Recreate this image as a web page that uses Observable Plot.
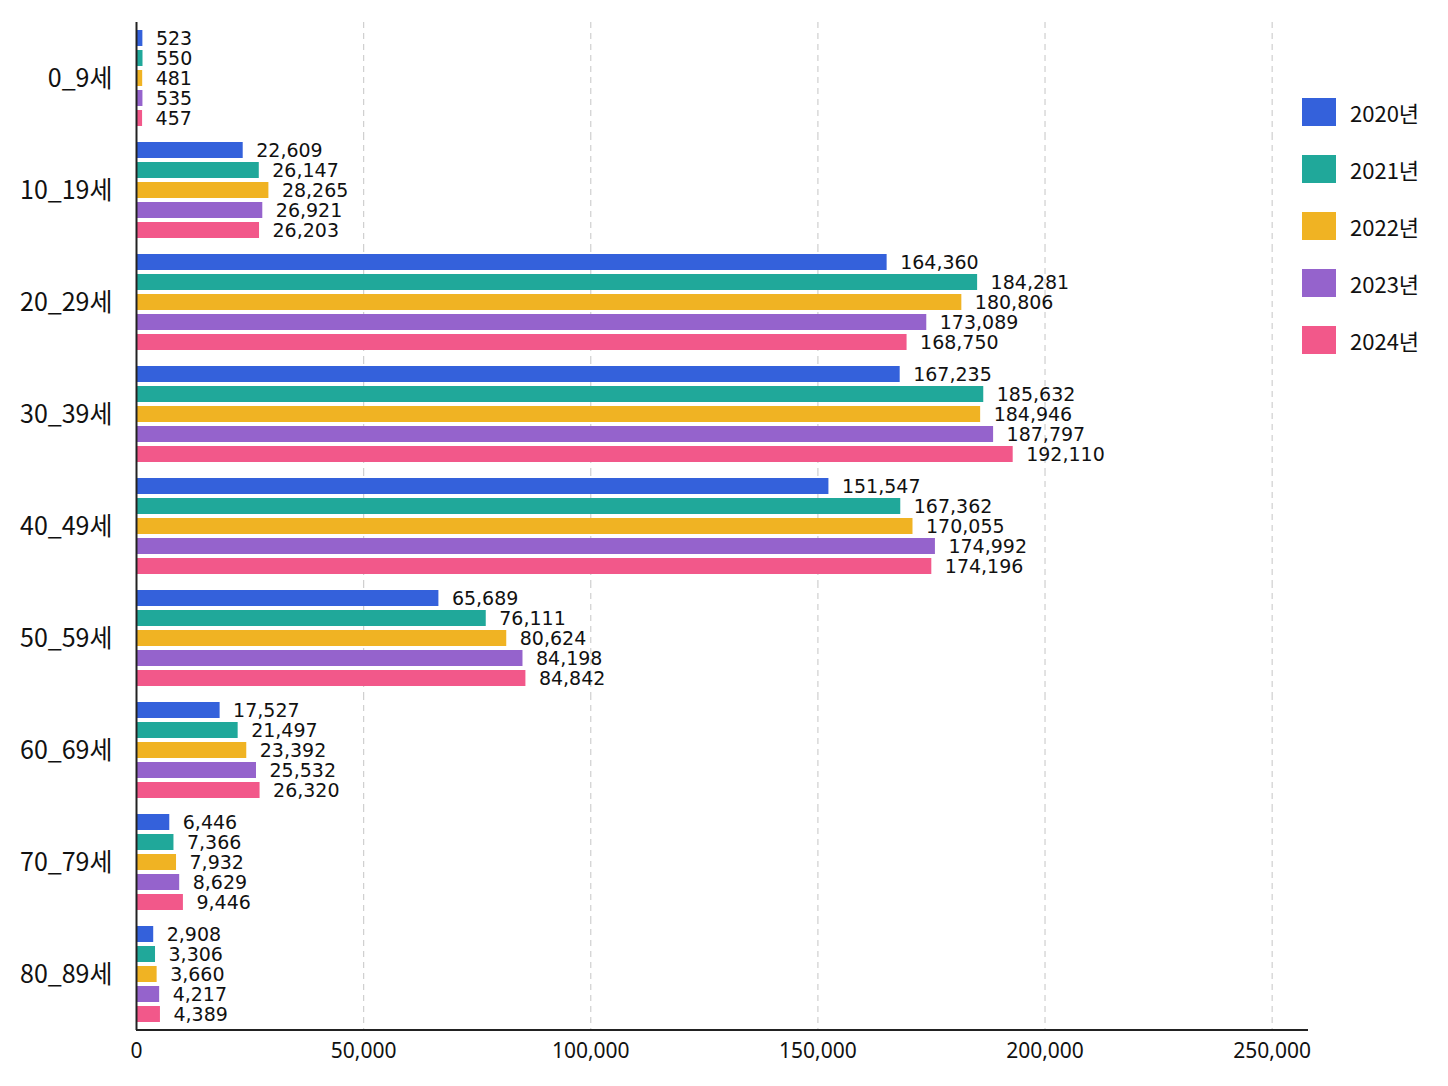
<!DOCTYPE html>
<html><head><meta charset="utf-8">
<script src="https://cdn.jsdelivr.net/npm/d3@7"></script>
<script src="https://cdn.jsdelivr.net/npm/@observablehq/plot@0.6"></script>
<style>
body{margin:0;background:#fff;}
#wrap{position:relative;width:1448px;height:1086px;}
#legend{position:absolute;left:1302px;top:98px;font-family:"Noto Sans CJK KR","Noto Sans",sans-serif;font-size:22px;color:#111;}
.item{display:flex;align-items:center;height:28px;margin-bottom:29px;}
.sw{width:34px;height:28px;margin-right:14px;}
</style>
</head><body>
<div id="wrap"><div id="chart"></div><div id="legend"></div></div>
<script>
const ages = ["0_9세","10_19세","20_29세","30_39세","40_49세","50_59세","60_69세","70_79세","80_89세"];
const years = ["2020년","2021년","2022년","2023년","2024년"];
const colors = ["#3461db","#20a89a","#f0b323","#9563cc","#f2588a"];
const v2020 = [523, 22609, 164360, 167235, 151547, 65689, 17527, 6446, 2908];
const v2021 = [550, 26147, 184281, 185632, 167362, 76111, 21497, 7366, 3306];
const v2022 = [481, 28265, 180806, 184946, 170055, 80624, 23392, 7932, 3660];
const v2023 = [535, 26921, 173089, 187797, 174992, 84198, 25532, 8629, 4217];
const v2024 = [457, 26203, 168750, 192110, 174196, 84842, 26320, 9446, 4389];
const xTicks = [0, 50000, 100000, 150000, 200000, 250000];

const series = [v2020, v2021, v2022, v2023, v2024];
const data = [];
ages.forEach((a, i) => years.forEach((y, j) => data.push({age: a, year: y, value: series[j][i]})));
const fmt = d3.format(",");

const plot = Plot.plot({
  width: 1448, height: 1086,
  marginLeft: 136, marginRight: 140, marginTop: 22, marginBottom: 56,
  style: {fontFamily: "Noto Sans", background: "white", color: "#111"},
  x: {domain: [0, 258000], ticks: xTicks, tickFormat: fmt, label: null},
  y: {domain: years, paddingInner: 0.2, paddingOuter: 0.35, axis: null},
  fy: {domain: ages, padding: 0, label: null},
  color: {domain: years, range: colors},
  marks: [
    Plot.gridX(xTicks.filter(d => d > 0), {stroke: "#cfcfcf", strokeOpacity: 1, strokeDasharray: "6,5", strokeWidth: 1.2}),
    Plot.barX(data, {x: "value", y: "year", fy: "age", fill: "year", insetRight: -4}),
    Plot.text(data, {x: "value", y: "year", fy: "age", text: d => fmt(d.value), textAnchor: "start", dx: 17, fontSize: 19, fontFamily: "DejaVu Sans", fill: "#111"}),
    Plot.ruleX([0], {stroke: "#222", strokeWidth: 2}),
    Plot.axisX({ticks: xTicks, tickSize: 0, tickPadding: 13, fontSize: 21, tickFormat: fmt, label: null}),
    Plot.axisFy({anchor: "left", tickSize: 0, tickPadding: 24, fontSize: 25, fontFamily: "Noto Sans CJK KR", label: null})
  ]
});

// bottom axis line using the x scale range
const xr = plot.scale("x").range;
d3.select(plot).append("line")
  .attr("x1", xr[0]).attr("x2", xr[1])
  .attr("y1", 1086 - 56).attr("y2", 1086 - 56)
  .attr("stroke", "#222").attr("stroke-width", 2);

document.getElementById("chart").appendChild(plot);

const leg = d3.select("#legend");
years.forEach((y, i) => {
  const it = leg.append("div").attr("class", "item");
  it.append("div").attr("class", "sw").style("background", colors[i]);
  it.append("span").text(y);
});
</script>
</body></html>
